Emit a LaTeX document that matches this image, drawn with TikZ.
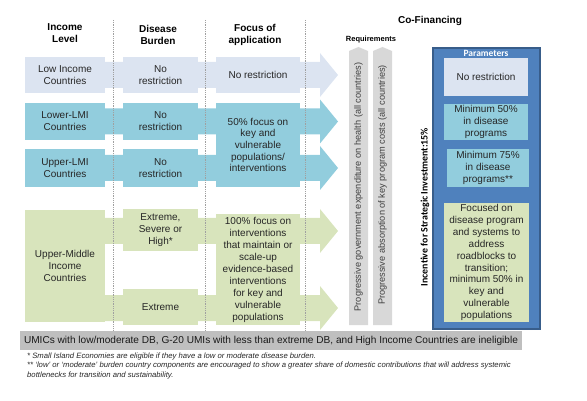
\documentclass[tikz,border=0pt]{standalone}
\usepackage{fontspec}
\setmainfont{Liberation Sans}
\newfontfamily\carl{Carlito}
\usetikzlibrary{calc}
\newcommand\fsz[2]{\fontsize{#1}{#2}\selectfont}
\definecolor{lowc}{RGB}{220,228,241}
\definecolor{lmic}{RGB}{146,205,221}
\definecolor{umic}{RGB}{216,228,188}
\definecolor{reqc}{RGB}{216,216,216}
\definecolor{barc}{RGB}{191,191,191}
\definecolor{parc}{RGB}{79,129,189}
\definecolor{pard}{RGB}{56,93,138}
\definecolor{dotc}{RGB}{160,160,160}
\newcommand\rowarrow[3]{%
  \fill[#3] ($(#1)+(0,-13)$) -- ($(#2)+(-18,-13)$) -- ($(#2)+(-18,-22)$) -- (#2)
    -- ($(#2)+(-18,22)$) -- ($(#2)+(-18,13)$) -- ($(#1)+(0,13)$) -- cycle;}
\begin{document}
\begin{tikzpicture}[x=1pt,y=-1pt,
  box/.style={inner sep=0pt, align=center, font=\fsz{10}{12}, text=black!85},
  hdr/.style={inner sep=0pt, align=center, font=\bfseries\fsz{10}{12.5}},
  dots/.style={dotc, densely dotted, line width=0.8pt},
  vtxt/.style={rotate=90, inner sep=0pt, font=\fsz{9.2}{10}, text=black!75}]
\useasboundingbox (0,0) rectangle (587,401);

% headers
\node[hdr] (h1) at (65,33) {Income\\Level};
\node[hdr] (h2) at (158,35) {Disease\\Burden};
\node[hdr] (h3) at (255,35) {Focus of\\application};
\node[inner sep=0pt, font=\bfseries\fsz{10}{12}] (cof) at (430,21) {Co-Financing};
\node[inner sep=0pt, font=\bfseries\fsz{7.5}{9}] (req) at (371,40) {Requirements};

% tips and row starts
\coordinate (t1) at (338,75);
\coordinate (t2) at (338,121.5);
\coordinate (t3) at (338,168);
\coordinate (t4a) at (338,231);
\coordinate (t4b) at (338,308);
\coordinate (s1) at (65,75);
\coordinate (s2) at (65,121.5);
\coordinate (s3) at (65,168);
\coordinate (s4a) at (65,231);
\coordinate (s4b) at (65,308);

\rowarrow{s1}{t1}{lowc}
\rowarrow{s2}{t2}{lmic}
\rowarrow{s3}{t3}{lmic}
\rowarrow{s4a}{t4a}{umic}
\rowarrow{s4b}{t4b}{umic}

% row 1
\node[box, fill=lowc, minimum width=80pt, minimum height=36pt] (inc1) at (65,75) {Low Income\\Countries};
\node[box, fill=lowc, minimum width=75pt, minimum height=36pt] (dis1) at (160.5,75) {No\\restriction};
\node[box, fill=lowc, minimum width=84pt, minimum height=36pt] (foc1) at (258,75) {No restriction};
% rows 2-3
\node[box, fill=lmic, minimum width=80pt, minimum height=37pt] (inc2) at (65,121.5) {Lower-LMI\\Countries};
\node[box, fill=lmic, minimum width=75pt, minimum height=37pt] (dis2) at (160.5,121.5) {No\\restriction};
\node[box, fill=lmic, minimum width=80pt, minimum height=38pt] (inc3) at (65,168) {Upper-LMI\\Countries};
\node[box, fill=lmic, minimum width=75pt, minimum height=38pt] (dis3) at (160.5,168) {No\\restriction};
\node[box, fill=lmic, minimum width=84pt, minimum height=84pt, font=\fsz{10}{11.7}] (foc2) at (258,145) {50\% focus on\\key and\\vulnerable\\populations/\\interventions};
% row 4
\node[box, fill=umic, minimum width=80pt, minimum height=112pt] (inc4) at (65,266) {Upper-Middle\\Income\\Countries};
\node[box, fill=umic, minimum width=75pt, minimum height=42pt] (dis4a) at (160.5,230) {Extreme,\\Severe or\\High*};
\node[box, fill=umic, minimum width=75pt, minimum height=36pt] (dis4b) at (160.5,307) {Extreme};
\node[box, fill=umic, minimum width=84pt, minimum height=111pt] (foc4) at (258,269.5) {100\% focus on\\interventions\\that maintain or\\scale-up\\evidence-based\\interventions\\for key and\\vulnerable\\populations};

% dotted separators
\coordinate (d1a) at (113,20); \coordinate (d1b) at (113,330);
\coordinate (d2a) at (205,20); \coordinate (d2b) at (205,330);
\coordinate (d3a) at (305,20); \coordinate (d3b) at (305,330);
\draw[dots] (d1a) -- (d1b);
\draw[dots] (d2a) -- (d2b);
\draw[dots] (d3a) -- (d3b);

% requirement bars
\fill[reqc] (349,325) -- (349,51) -- (358.5,47) -- (368,51) -- (368,325) -- cycle;
\fill[reqc] (373,325) -- (373,51) -- (382.5,47) -- (392,51) -- (392,325) -- cycle;
\node[vtxt] (r1) at (358.5,187) {Progressive government expenditure on health (all countries)};
\node[vtxt] (r2) at (382.5,185) {Progressive absorption of key program costs (all countries)};

% incentive
\node[rotate=90, inner sep=0pt, font=\carl\bfseries\fsz{9.9}{12}] (inct) at (425,207) {Incentive for Strategic Investment:15\%};

% parameters
\node[fill=parc, draw=pard, line width=1.2pt, minimum width=107pt, minimum height=281pt, inner sep=0pt] (par) at (486.5,188.5) {};
\node[inner sep=0pt, text=white, font=\carl\bfseries\fsz{9.5}{11}] (pt) at (486,53) {Parameters};
\node[box, fill=lowc, minimum width=84pt, minimum height=38pt] (p1) at (486,77) {No restriction};
\node[box, fill=lmic, minimum width=84pt, minimum height=36pt] (p2) at (486,122) {Minimum 50\%\\in disease\\programs};
\node[box, fill=lmic, minimum width=82pt, minimum height=38pt] (p3) at (488,168) {Minimum 75\%\\in disease\\programs**};
\node[box, fill=umic, minimum width=85pt, minimum height=119pt, font=\fsz{10}{11.9}] (p4) at (486.5,262.5) {Focused on\\disease program\\and systems to\\address\\roadblocks to\\transition;\\minimum 50\% in\\key and\\vulnerable\\populations};

% bottom bar
\node[fill=barc, minimum width=502pt, minimum height=19pt, inner sep=0pt, font=\fsz{10.1}{12}, text=black!90] (bar) at (271,340.5) {UMICs with low/moderate DB, G-20 UMIs with less than extreme DB, and High Income Countries are ineligible};

% footnotes
\node[anchor=north west, inner sep=0pt, align=left, font=\itshape\fsz{7.7}{9.5}, text=black!85] (fn) at (27,352.5) {* Small Island Economies are eligible if they have a low or moderate disease burden.\\
** `low' or `moderate' burden country components are encouraged to show a greater share of domestic contributions that will address systemic\\
bottlenecks for transition and sustainability.};
\end{tikzpicture}
\end{document}
